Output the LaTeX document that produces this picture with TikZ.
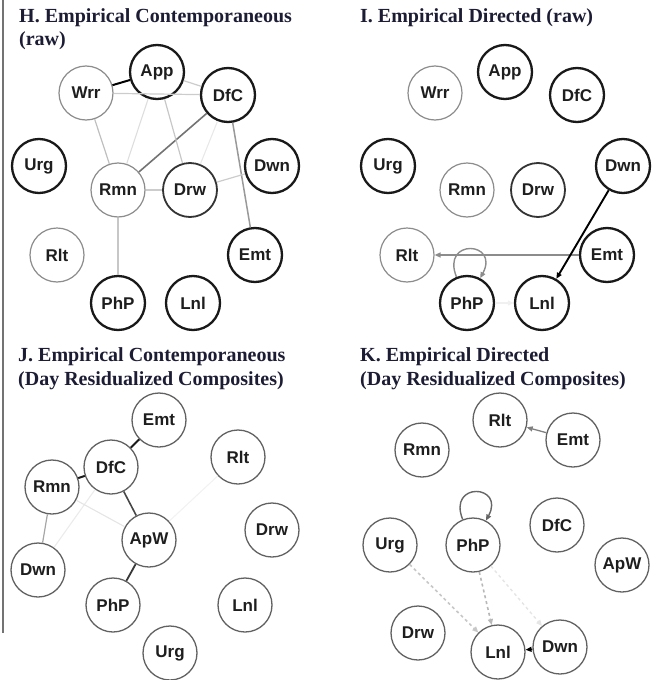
\documentclass[tikz,border=0pt]{standalone}
\usepackage{fontspec}
\setmainfont{Liberation Serif}
\newfontfamily\nodefont{Liberation Sans}
\usetikzlibrary{arrows.meta}
\definecolor{titlecol}{RGB}{28,28,52}
\definecolor{txtcol}{RGB}{30,30,30}
\begin{document}
\begin{tikzpicture}[x=1pt,y=-1pt,
  nd/.style={circle,minimum size=54pt,inner sep=0pt,fill=white,
    font=\nodefont\bfseries\fontsize{17}{17}\selectfont,text=txtcol},
  thk/.style={nd,draw=black!90,line width=2.3pt},
  thn/.style={nd,draw=black!45,line width=1.2pt},
  med/.style={nd,draw=black!80,line width=1.8pt},
  std/.style={nd,draw=black!62,line width=1.3pt},
  ttl/.style={anchor=base west,inner sep=0pt,
    font=\bfseries\fontsize{20}{24}\selectfont,text=titlecol},
  lnk/.style={line width=#1},
  tip/.style={-{Triangle[length=6pt,width=5pt]}}
]
\useasboundingbox (0,0) rectangle (657,680);
\coordinate (vtop) at (3,0);
\coordinate (vbot) at (3,633);
\draw[black!55,line width=2pt] (vtop) -- (vbot);

% ---------------- H ----------------
\node[ttl] (tH1) at (19,22) {H. Empirical Contemporaneous};
\node[ttl] (tH2) at (19,45) {(raw)};
\node[thk] (hApp) at (157,72) {App};
\node[thn] (hWrr) at (86,93) {Wrr};
\node[thk] (hDfC) at (228,95) {DfC};
\node[thk] (hUrg) at (39,166) {Urg};
\node[thn] (hRmn) at (118,190) {Rmn};
\node[med] (hDrw) at (190,190) {Drw};
\node[thk] (hDwn) at (272,166) {Dwn};
\node[thn] (hRlt) at (57,255) {Rlt};
\node[thk] (hEmt) at (255,255) {Emt};
\node[thk] (hPhP) at (118,303) {PhP};
\node[thk] (hLnl) at (193,303) {Lnl};
\draw[lnk=2pt,black] (hWrr) -- (hApp);
\draw[lnk=1.6pt,black!55] (hDfC) -- (hRmn);
\draw[lnk=1.5pt,black!40] (hDfC) -- (hEmt);
\draw[lnk=1.2pt,black!20] (hWrr) -- (hDfC);
\draw[lnk=1.2pt,black!20] (hApp) -- (hDfC);
\draw[lnk=1.2pt,black!25] (hWrr) -- (hRmn);
\draw[lnk=1.1pt,black!13] (hApp) -- (hRmn);
\draw[lnk=1.2pt,black!22] (hApp) -- (hDrw);
\draw[lnk=1.1pt,black!9] (hDfC) -- (hDrw);
\draw[lnk=1.2pt,black!20] (hRmn) -- (hDrw);
\draw[lnk=1.2pt,black!20] (hDrw) -- (hDwn);
\draw[lnk=1.2pt,black!22] (hRmn) -- (hPhP);

% ---------------- I ----------------
\node[ttl] (tI1) at (360,22) {I. Empirical Directed (raw)};
\node[thk] (iApp) at (505,72) {App};
\node[thn] (iWrr) at (435,93) {Wrr};
\node[thk] (iDfC) at (577,95) {DfC};
\node[thk] (iUrg) at (388,166) {Urg};
\node[thn] (iRmn) at (467,190) {Rmn};
\node[med] (iDrw) at (538,190) {Drw};
\node[thk] (iDwn) at (623,166) {Dwn};
\node[thn] (iRlt) at (407,255) {Rlt};
\node[thk] (iEmt) at (607,255) {Emt};
\node[thk] (iPhP) at (467,303) {PhP};
\node[thk] (iLnl) at (542,303) {Lnl};
\draw[lnk=1.4pt,black!45,tip] (iEmt) -- (iRlt);
\draw[lnk=1.9pt,black,tip] (iDwn) -- (iLnl);
\draw[lnk=1.4pt,black!45,tip] (iPhP) to[out=112,in=62,looseness=4.5] (iPhP);
\draw[lnk=1.2pt,black!6,tip] (iPhP) -- (iLnl);

% ---------------- J ----------------
\node[ttl] (tJ1) at (18,361) {J. Empirical Contemporaneous};
\node[ttl] (tJ2) at (18,385) {(Day Residualized Composites)};
\node[std] (jEmt) at (159,420) {Emt};
\node[std] (jRlt) at (238,457) {Rlt};
\node[std] (jDfC) at (111,467) {DfC};
\node[std] (jRmn) at (52,487) {Rmn};
\node[std] (jDrw) at (272,530) {Drw};
\node[std] (jApW) at (149,540) {ApW};
\node[std] (jDwn) at (38,570) {Dwn};
\node[std] (jPhP) at (113,605) {PhP};
\node[std] (jLnl) at (245,605) {Lnl};
\node[std] (jUrg) at (170,653) {Urg};
\draw[lnk=2pt,black!90] (jEmt) -- (jDfC);
\draw[lnk=2pt,black!90] (jDfC) -- (jRmn);
\draw[lnk=1.6pt,black!72] (jDfC) -- (jApW);
\draw[lnk=1.8pt,black!78] (jApW) -- (jPhP);
\draw[lnk=1.2pt,black!35] (jRmn) -- (jDwn);
\draw[lnk=1.1pt,black!8] (jDfC) -- (jDwn);
\draw[lnk=1.1pt,black!10] (jRmn) -- (jApW);
\draw[lnk=1.1pt,black!5] (jApW) -- (jRlt);

% ---------------- K ----------------
\node[ttl] (tK1) at (360,361) {K. Empirical Directed};
\node[ttl] (tK2) at (360,385) {(Day Residualized Composites)};
\node[std] (kRlt) at (500,420) {Rlt};
\node[std] (kEmt) at (573,440) {Emt};
\node[std] (kRmn) at (422,450) {Rmn};
\node[std] (kDfC) at (557,525) {DfC};
\node[std] (kUrg) at (390,545) {Urg};
\node[std] (kPhP) at (473,545) {PhP};
\node[std] (kApW) at (622,565) {ApW};
\node[std] (kDrw) at (418,633) {Drw};
\node[std] (kLnl) at (498,652) {Lnl};
\node[std] (kDwn) at (560,647) {Dwn};
\draw[lnk=1.3pt,black!50,tip] (kEmt) -- (kRlt);
\draw[lnk=1.4pt,black!60,tip] (kPhP) to[out=112,in=62,looseness=4.5] (kPhP);
\draw[lnk=1.6pt,black!22,dashed,tip] (kUrg) -- (kLnl);
\draw[lnk=1.6pt,black!28,dashed,tip] (kPhP) -- (kLnl);
\draw[lnk=1.4pt,black!10,dashed,tip] (kPhP) -- (kDwn);
\draw[lnk=1.3pt,black,tip] (kDwn) -- (kLnl);
\end{tikzpicture}
\end{document}
